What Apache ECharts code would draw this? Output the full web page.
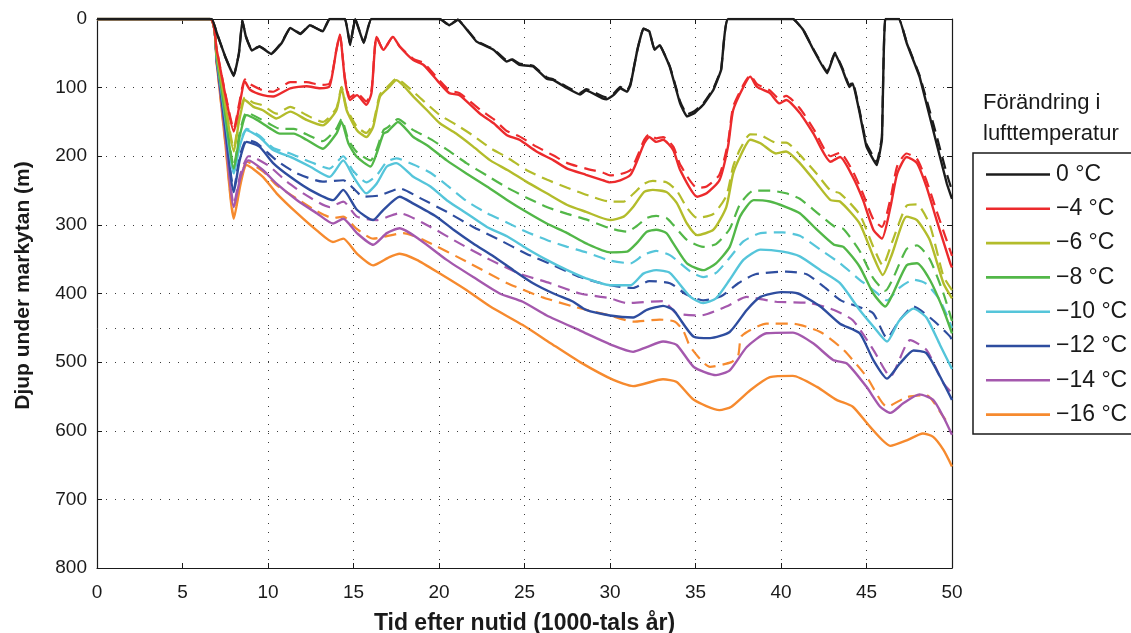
<!DOCTYPE html>
<html><head><meta charset="utf-8">
<script src="https://cdn.jsdelivr.net/npm/echarts@6/dist/echarts.min.js"></script>
<style>html,body{margin:0;padding:0;background:#fff}#c{width:1131px;height:633px}</style>
</head><body><div id="c"></div>
<script>
// Legend labels / colours
const labels = ['0 °C', '\u22124 °C', '\u22126 °C', '\u22128 °C', '\u221210 °C', '\u221212 °C', '\u221214 °C', '\u221216 °C'];
const colors = ['#1c1c1c', '#ec2a2c', '#b3bc2b', '#52b748', '#55c5da', '#2e4d9f', '#a458ad', '#f68a2e'];

// [time (1000 yr), depth (m)] — solid lines
const s0 = [[0,0],[6.7,0],[7.0,20],[7.5,55],[8.0,83],[8.3,50],[8.5,2],[8.7,25],[9.05,46],[9.5,40],[10.2,51],[10.8,35],[11.3,13],[11.9,22],[12.45,9],[13.2,18],[13.6,0],[14.5,0],[14.8,38],[15.1,0],[15.6,35],[16.05,0],[20.05,0],[20.6,9],[21.1,1],[22.2,33],[23.2,45],[23.95,62],[24.25,59],[24.7,67],[25.5,69],[26.3,87],[26.7,89],[27.5,101],[28.25,110],[28.6,104],[29.6,116],[29.8,117],[30.2,111],[30.6,101],[31.0,106],[31.2,96],[31.6,45],[31.95,14],[32.3,18],[32.6,45],[32.9,38],[33.5,70],[34.1,123],[34.5,142],[34.95,137],[35.45,125],[36.05,103],[36.5,74],[36.9,0],[40.7,0],[41.3,16],[41.9,45],[42.7,79],[43.15,50],[43.6,74],[44.0,99],[44.2,94],[44.6,137],[45.0,186],[45.6,213],[45.9,176],[46.1,0],[46.9,0],[47.35,35],[48.1,84],[48.9,162],[49.7,240],[50,262]];
const s4 = [[0,0],[6.6,0],[7.0,45],[7.5,110],[8.0,164],[8.3,130],[8.65,91],[8.95,103],[9.7,111],[10.3,113],[11.3,101],[12.25,98],[13.05,101],[13.6,98],[14.0,45],[14.2,23],[14.5,89],[14.8,118],[15.2,111],[15.75,125],[16.05,108],[16.35,26],[16.75,45],[17.3,26],[17.7,40],[18.5,60],[19.1,67],[20.05,94],[20.6,108],[21.2,111],[22.4,138],[23.2,152],[23.95,169],[24.7,176],[25.7,193],[26.7,206],[27.5,218],[28.6,227],[29.6,235],[30.0,238],[30.6,235],[31.2,227],[31.6,206],[32.0,181],[32.3,172],[32.7,179],[33.1,176],[33.7,191],[34.1,220],[35.1,259],[35.65,254],[36.4,235],[36.9,186],[37.2,133],[37.8,99],[38.2,84],[38.6,99],[39.35,108],[39.9,123],[40.3,118],[41.1,137],[41.9,167],[42.9,208],[43.45,201],[44.2,230],[44.8,264],[45.4,307],[45.9,320],[46.4,274],[46.8,225],[47.35,201],[47.95,210],[48.5,244],[49.1,293],[49.9,356],[50,362]];
const s6 = [[0,0],[6.6,0],[7.0,50],[7.5,125],[8.0,193],[8.3,150],[8.65,118],[9.15,128],[9.7,133],[10.5,145],[11.3,135],[12.25,147],[13.2,155],[14.0,133],[14.3,101],[14.6,133],[15.2,162],[15.75,172],[16.15,157],[16.55,113],[17.1,99],[17.5,89],[18.5,113],[19.3,133],[20.05,152],[21.0,167],[22.0,186],[23.0,206],[24.0,220],[25.1,237],[26.3,254],[27.5,271],[28.6,281],[30.0,293],[30.8,288],[31.35,274],[32.0,252],[32.5,249],[33.3,252],[33.9,268],[34.5,298],[35.1,315],[36.05,307],[36.8,274],[37.2,225],[37.6,201],[38.2,176],[38.8,181],[39.7,196],[40.3,193],[41.1,210],[42.1,240],[42.9,264],[43.45,266],[44.6,298],[45.4,346],[45.95,373],[46.5,342],[47.35,288],[47.95,293],[48.7,322],[49.5,385],[50,407]];
const s8 = [[0,0],[6.6,0],[7.0,55],[7.5,140],[8.0,218],[8.35,170],[8.75,140],[9.35,147],[10.1,159],[10.7,167],[11.5,167],[12.25,176],[13.2,189],[14.0,167],[14.3,150],[14.7,181],[15.2,201],[16.0,215],[16.35,196],[16.75,167],[17.0,164],[17.6,150],[18.5,172],[19.3,184],[20.45,206],[21.6,225],[22.8,244],[24.0,264],[25.1,281],[26.3,298],[27.5,312],[28.6,327],[30.0,340],[31.0,339],[31.55,327],[32.15,310],[32.7,307],[33.3,312],[33.7,327],[34.5,356],[35.45,366],[36.2,356],[37.0,332],[37.6,288],[38.4,264],[39.35,266],[40.3,274],[41.1,283],[42.1,307],[43.1,329],[43.65,332],[44.6,361],[45.4,400],[46.1,419],[46.55,400],[47.35,359],[47.95,356],[48.7,380],[49.5,424],[50,458]];
const s10 = [[0,0],[6.6,0],[7.0,57],[7.5,145],[8.0,225],[8.35,185],[8.75,162],[9.5,172],[10.3,191],[11.3,201],[12.45,215],[13.6,230],[14.4,206],[15.0,230],[15.75,254],[16.35,240],[16.95,215],[17.5,210],[18.5,230],[19.5,244],[20.45,264],[21.6,283],[22.8,303],[24.0,317],[25.1,334],[26.3,351],[27.5,366],[28.6,378],[30.0,388],[31.2,388],[31.95,371],[32.7,366],[33.5,370],[34.7,405],[35.45,414],[36.2,407],[37.0,380],[37.8,351],[38.8,336],[40.1,339],[41.1,346],[42.3,366],[43.45,385],[44.6,424],[45.4,448],[46.2,470],[46.9,440],[47.75,422],[48.5,435],[49.3,475],[50,510]];
const s12 = [[0,0],[6.6,0],[7.0,60],[7.5,160],[8.0,252],[8.35,205],[8.75,179],[9.5,186],[10.3,210],[11.3,230],[12.45,249],[13.8,264],[14.4,249],[15.2,278],[16.15,293],[16.75,278],[17.7,259],[18.5,269],[19.85,288],[20.85,307],[22.0,327],[23.2,346],[24.35,366],[25.5,385],[26.7,400],[27.85,412],[28.6,424],[30.0,432],[31.35,435],[32.15,424],[33.1,418],[33.7,424],[34.9,463],[35.85,465],[37.0,456],[38.0,424],[38.8,405],[40.0,398],[41.0,400],[42.3,419],[43.45,444],[44.6,458],[45.4,497],[46.2,524],[46.95,502],[47.75,483],[48.5,487],[49.3,521],[50,555]];
const s14 = [[0,0],[6.6,0],[7.0,62],[7.5,170],[8.0,274],[8.4,230],[8.85,206],[9.7,220],[10.5,240],[11.7,264],[12.85,283],[13.8,298],[14.4,291],[15.2,312],[16.15,329],[16.95,312],[17.7,305],[18.9,322],[20.45,351],[22.0,376],[23.55,400],[24.9,412],[26.3,432],[28.25,454],[30.2,476],[31.35,485],[32.15,478],[33.1,470],[33.9,475],[34.9,507],[36.2,519],[37.0,512],[38.0,478],[39.15,458],[40.7,457],[41.9,473],[43.05,497],[43.85,502],[45.0,536],[45.8,565],[46.4,574],[47.15,560],[48.1,547],[48.9,555],[49.5,580],[50,606]];
const s16 = [[0,0],[6.6,0],[7.0,65],[7.5,180],[8.0,291],[8.4,240],[8.75,213],[9.7,230],[10.5,254],[11.7,283],[12.85,308],[13.8,325],[14.4,320],[15.2,342],[16.15,359],[17.1,347],[17.7,342],[18.7,351],[20.05,371],[21.6,395],[23.0,419],[24.9,446],[26.5,472],[28.25,500],[30.2,526],[31.35,535],[33.1,525],[33.9,529],[34.9,555],[36.4,570],[37.1,565],[38.2,541],[39.35,522],[40.7,520],[42.1,536],[43.25,555],[44.2,565],[45.2,594],[46.4,622],[47.35,614],[48.3,604],[48.9,609],[49.5,628],[50,652]];

// [time, depth] — dashed lines
const d0 = [[0,0],[6.7,0],[7.0,20],[7.5,55],[8.0,82],[8.3,50],[8.5,2],[8.7,25],[9.05,45],[9.5,40],[10.2,50],[10.8,34],[11.3,13],[11.9,21],[12.45,9],[13.2,18],[13.6,0],[14.5,0],[14.8,37],[15.1,0],[15.6,34],[16.05,0],[20.05,0],[20.6,9],[21.1,1],[22.2,32],[23.2,44],[23.95,60],[24.25,58],[24.7,65],[25.5,68],[26.3,85],[26.7,88],[27.5,99],[28.25,108],[28.6,102],[29.6,113],[29.8,114],[30.2,109],[30.6,99],[31.0,104],[31.2,94],[31.6,45],[31.95,14],[32.3,18],[32.6,44],[32.9,38],[33.5,69],[34.1,120],[34.5,139],[34.95,134],[35.45,123],[36.05,101],[36.5,73],[36.9,0],[40.7,0],[41.3,16],[41.9,44],[42.7,77],[43.15,49],[43.6,72],[44.0,97],[44.2,92],[44.6,134],[45.0,182],[45.6,208],[45.9,172],[46.1,0],[46.9,0],[47.35,34],[48.1,82],[48.9,152],[49.7,226],[50,250]];
const d4 = [[0,0],[6.6,0],[7.0,45],[7.5,108],[8.0,160],[8.3,125],[8.65,88],[8.95,95],[9.7,104],[10.3,106],[11.3,92],[12.25,92],[13.05,96],[13.6,94],[14.0,45],[14.2,23],[14.5,86],[14.8,114],[15.2,108],[15.75,120],[16.05,104],[16.35,26],[16.75,45],[17.3,26],[17.7,40],[18.5,58],[19.1,64],[20.05,90],[20.6,104],[21.2,108],[22.4,132],[23.2,146],[23.95,163],[24.7,171],[25.7,186],[26.7,199],[27.5,210],[28.6,218],[29.6,224],[30.0,228],[30.6,226],[31.2,220],[31.6,200],[32.0,176],[32.3,168],[32.7,174],[33.1,172],[33.7,186],[34.1,212],[35.1,246],[35.65,244],[36.4,227],[36.9,180],[37.2,128],[37.8,96],[38.2,82],[38.6,95],[39.35,104],[39.9,116],[40.3,112],[41.1,130],[41.9,160],[42.9,200],[43.45,195],[44.2,222],[44.8,255],[45.4,292],[45.9,303],[46.4,262],[46.8,214],[47.35,196],[47.95,204],[48.5,235],[49.1,280],[49.9,338],[50,345]];
const d6 = [[0,0],[6.6,0],[7.0,50],[7.5,122],[8.0,188],[8.3,145],[8.65,114],[9.15,122],[9.7,126],[10.5,138],[11.3,128],[12.25,140],[13.2,150],[14.0,130],[14.3,99],[14.6,130],[15.2,157],[15.75,166],[16.15,152],[16.55,110],[17.1,96],[17.5,87],[18.5,106],[19.3,124],[20.05,140],[21.0,154],[22.0,170],[23.0,188],[24.0,202],[25.1,220],[26.3,234],[27.5,246],[28.6,256],[30.0,266],[30.8,266],[31.35,255],[32.0,240],[32.5,236],[33.3,238],[33.9,250],[34.5,275],[35.1,290],[36.05,284],[36.8,258],[37.2,215],[37.6,190],[38.2,168],[38.8,169],[39.7,180],[40.3,180],[41.1,198],[42.1,226],[42.9,250],[43.45,254],[44.6,285],[45.4,332],[45.95,359],[46.5,325],[47.35,272],[47.95,270],[48.7,300],[49.5,375],[50,395]];
const d8 = [[0,0],[6.6,0],[7.0,55],[7.5,138],[8.0,214],[8.35,165],[8.75,136],[9.35,143],[10.1,153],[10.7,160],[11.5,160],[12.25,168],[13.2,178],[14.0,160],[14.3,146],[14.7,176],[15.2,194],[16.0,206],[16.35,190],[16.75,162],[17.0,158],[17.6,146],[18.5,162],[19.3,172],[20.45,190],[21.6,210],[22.8,228],[24.0,246],[25.1,260],[26.3,274],[27.5,284],[28.6,292],[30.0,305],[31.0,310],[31.55,302],[32.15,290],[32.7,287],[33.3,290],[33.7,300],[34.5,322],[35.45,332],[36.2,328],[37.0,306],[37.6,270],[38.4,250],[39.35,250],[40.3,254],[41.1,262],[42.1,282],[43.1,302],[43.65,306],[44.6,338],[45.4,378],[46.1,396],[46.55,378],[47.35,335],[47.95,330],[48.7,350],[49.5,400],[50,440]];
const d10 = [[0,0],[6.6,0],[7.0,57],[7.5,143],[8.0,222],[8.35,182],[8.75,160],[9.5,170],[10.3,188],[11.3,196],[12.45,208],[13.6,218],[14.4,200],[15.0,222],[15.75,238],[16.35,228],[16.95,208],[17.5,203],[18.5,212],[19.5,224],[20.45,242],[21.6,265],[22.8,283],[24.0,297],[25.1,310],[26.3,322],[27.5,332],[28.6,340],[30.0,352],[31.2,356],[31.95,344],[32.7,338],[33.5,344],[34.7,368],[35.45,376],[36.2,370],[37.0,348],[37.8,324],[38.8,312],[40.1,311],[41.1,316],[42.3,336],[43.45,356],[44.6,380],[45.4,395],[46.2,410],[46.9,392],[47.75,380],[48.5,386],[49.3,410],[50,450]];
const d12 = [[0,0],[6.6,0],[7.0,60],[7.5,158],[8.0,248],[8.35,200],[8.75,176],[9.35,181],[10.5,206],[11.7,225],[13.2,237],[14.4,235],[15.6,259],[16.55,257],[17.7,247],[18.9,261],[20.45,281],[22.0,303],[23.55,322],[25.1,342],[26.7,359],[28.25,376],[30.0,388],[31.35,392],[32.3,382],[33.5,385],[34.5,402],[35.45,410],[36.5,404],[37.5,385],[38.5,372],[40.3,368],[41.5,372],[42.5,390],[43.5,410],[44.6,420],[45.4,429],[46.2,465],[46.9,440],[47.75,419],[48.9,439],[49.9,463],[50,470]];
const d14 = [[0,0],[6.6,0],[7.0,62],[7.5,168],[8.0,270],[8.4,225],[8.85,200],[9.15,201],[10.1,215],[11.1,237],[12.25,257],[13.6,274],[14.4,266],[15.2,288],[16.35,293],[17.7,283],[19.5,303],[21.2,327],[23.0,351],[24.7,371],[26.5,385],[28.25,400],[30.0,407],[31.0,414],[33.1,411],[33.9,429],[35.3,432],[36.8,419],[38.0,405],[39.7,412],[41.7,414],[43.1,424],[44.2,439],[45.4,482],[46.4,521],[47.55,468],[48.5,482],[49.5,531],[50,545]];
const d16 = [[0,0],[6.6,0],[7.0,65],[7.5,178],[8.0,287],[8.4,236],[8.75,208],[9.7,222],[10.5,242],[11.7,262],[12.85,280],[13.8,290],[14.4,288],[15.2,306],[16.15,320],[17.9,312],[19.1,322],[21.8,356],[24.0,385],[26.0,405],[28.0,420],[30.0,432],[31.35,441],[32.9,438],[33.8,441],[34.3,455],[34.7,478],[35.85,507],[37.1,500],[37.5,490],[37.7,462],[39.15,444],[40.7,444],[42.3,456],[43.65,482],[45.0,521],[46.2,565],[47.35,551],[48.5,548],[49.5,580],[49.8,590]];

const solids = [s0, s4, s6, s8, s10, s12, s14, s16];
const dashes = [d0, d4, d6, d8, d10, d12, d14, d16];
const extraGridDepth = 450;

const FONT = '"Liberation Sans", Arial, sans-serif';
const dotted = { color: '#3a3a3a', width: 1, type: [1, 8] };

const series = [];
for (let i = solids.length - 1; i >= 0; i--) {
  const sm = i === 0 ? 0.1 : 0.2;
  series.push({
    name: labels[i] + ' (dashed)', type: 'line', data: dashes[i], showSymbol: false, symbol: 'none',
    smooth: sm,
    lineStyle: { color: colors[i], width: 2.2, type: [12, 7] }, itemStyle: { color: colors[i] },
    silent: true, z: 3, animation: false
  });
  series.push({
    name: labels[i], type: 'line', data: solids[i], showSymbol: false, symbol: 'none',
    smooth: sm,
    lineStyle: { color: colors[i], width: 2.4 }, itemStyle: { color: colors[i] },
    silent: true, z: 4, animation: false
  });
}
series[0].markLine = {
  silent: true, symbol: 'none', label: { show: false },
  lineStyle: dotted, data: [{ yAxis: extraGridDepth }], animation: false
};

const xSplitColors = [0,5,10,15,20,25,30,35,40,45,50].map(v => (v % 50 === 0 || v === 5) ? 'rgba(0,0,0,0)' : '#3a3a3a');

const chart = echarts.init(document.getElementById('c'), null, { renderer: 'canvas' });
chart.setOption({
  backgroundColor: '#fff',
  animation: false,
  title: {
    text: 'Förändring i\nlufttemperatur', left: 978, top: 82,
    textStyle: { fontFamily: FONT, fontSize: 22, fontWeight: 'normal', color: '#1a1a1a', lineHeight: 31 }
  },
  legend: {
    data: labels, orient: 'vertical', left: 973, top: 153,
    icon: 'rect',
    padding: [10, 60, 8, 13], itemGap: 11.3, itemWidth: 64, itemHeight: 2.6,
    borderColor: '#1a1a1a', borderWidth: 1.5, selectedMode: false,
    itemStyle: { borderWidth: 0 },
    textStyle: { fontFamily: FONT, fontSize: 23, color: '#1a1a1a', padding: [0, 0, 0, 1] }
  },
  grid: { left: 97, right: 179, top: 19, bottom: 65, containLabel: false, outerBoundsMode: 'none' },
  xAxis: [{
    type: 'value', min: 0, max: 50, interval: 5, position: 'bottom',
    name: 'Tid efter nutid (1000-tals år)', nameLocation: 'middle', nameGap: 44,
    nameTextStyle: { fontFamily: FONT, fontSize: 23, fontWeight: 'bold', color: '#1a1a1a' },
    axisLine: { show: true, onZero: false, lineStyle: { color: '#1a1a1a', width: 1.2 } },
    axisTick: { show: true, inside: true, length: 5, lineStyle: { color: '#1a1a1a' } },
    axisLabel: { fontFamily: FONT, fontSize: 19, color: '#1a1a1a', margin: 15 },
    splitLine: { show: true, lineStyle: { color: xSplitColors, width: 1, type: [1, 8] } }
  }, {
    type: 'value', min: 0, max: 50, interval: 5, position: 'top',
    axisLine: { show: true, onZero: false, lineStyle: { color: '#1a1a1a', width: 1.2 } },
    axisTick: { show: true, inside: true, length: 5, lineStyle: { color: '#1a1a1a' } },
    axisLabel: { show: false }, splitLine: { show: false }
  }],
  yAxis: [{
    type: 'value', min: 0, max: 800, interval: 100, inverse: true, position: 'left',
    name: 'Djup under markytan (m)', nameLocation: 'middle', nameGap: 63, nameRotate: 90,
    nameTextStyle: { fontFamily: FONT, fontSize: 21, fontWeight: 'bold', color: '#1a1a1a', padding: [0, 0, 0, 16] },
    axisLine: { show: true, onZero: false, lineStyle: { color: '#1a1a1a', width: 1.2 } },
    axisTick: { show: true, inside: true, length: 5, lineStyle: { color: '#1a1a1a' } },
    axisLabel: { fontFamily: FONT, fontSize: 19, color: '#1a1a1a', margin: 10 },
    splitLine: { show: true, lineStyle: dotted }
  }, {
    type: 'value', min: 0, max: 800, interval: 100, inverse: true, position: 'right',
    axisLine: { show: true, onZero: false, lineStyle: { color: '#1a1a1a', width: 1.2 } },
    axisTick: { show: true, inside: true, length: 5, lineStyle: { color: '#1a1a1a' } },
    axisLabel: { show: false }, splitLine: { show: false }
  }],
  series: series
});
</script>
</body></html>
